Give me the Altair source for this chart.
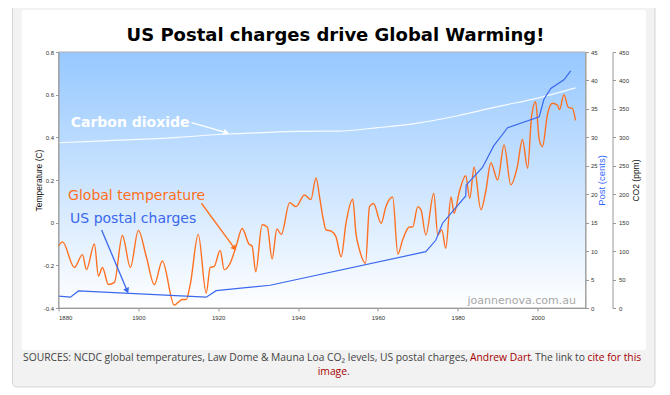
import math
import altair as alt
import pandas as pd

W, H = 527, 256
X0, X1 = 1880, 2012

# ---------------- data ----------------
temp_years = [1880, 1881, 1884, 1886, 1887, 1889, 1890, 1891, 1892.5, 1894, 1896, 1898,
              1900, 1902, 1904, 1906, 1909, 1911, 1912, 1913, 1915, 1917, 1918, 1919,
              1920.5, 1921.5, 1923, 1924.5, 1926, 1927.7, 1928.5, 1929.4, 1931, 1932.3,
              1933.5, 1934.7, 1935.8, 1937.9, 1939.5, 1941.6, 1943.2, 1944.5, 1945.4,
              1946.2, 1947, 1948.3, 1949.5, 1950.8, 1952, 1953.7, 1954.5, 1955.4, 1956.9,
              1957.9, 1958.9, 1960.8, 1962, 1963.7, 1965, 1966.2, 1967.9, 1968.7, 1970,
              1970.8, 1972, 1974, 1975, 1976, 1977, 1978.3, 1979.1, 1980.4, 1982, 1983,
              1984.1, 1985.8, 1987, 1988.3, 1990, 1991.6, 1993.3, 1994.9, 1996.2, 1997.5,
              1998.5, 1999.5, 2000.4, 2001.2, 2002.5, 2003.7, 2005, 2005.5, 2006.6,
              2007.7, 2008.7, 2009.5]
temp_vals = [-0.11, -0.09, -0.21, -0.15, -0.22, -0.10, -0.25, -0.21, -0.29, -0.28, -0.06, -0.21,
             -0.036, -0.16, -0.29, -0.18, -0.386, -0.36, -0.36, -0.29, -0.055, -0.33, -0.21, -0.205,
             -0.13, -0.22, -0.19, -0.11, -0.027, -0.10, -0.11, -0.23, -0.01, -0.02,
             -0.17, -0.03, -0.055, 0.094, 0.075, 0.13, 0.108, 0.21, 0.12,
             0.028, -0.034, -0.04, -0.066, -0.16, -0.003, 0.11, -0.05, -0.128, -0.19,
             0.075, 0.09, -0.003, 0.075, 0.12, -0.147, -0.08, -0.02, -0.02, 0.075,
             0.06, -0.058, 0.137, -0.058, -0.034, -0.12, 0.12, 0.044, 0.145, 0.22, 0.114,
             0.26, 0.06, 0.145, 0.28, 0.20, 0.364, 0.177, 0.26, 0.39, 0.255,
             0.50, 0.567, 0.39, 0.356, 0.51, 0.56, 0.55, 0.53, 0.60,
             0.54, 0.536, 0.48]

co2_years = [1880, 1890, 1900, 1910, 1920, 1930, 1940, 1950, 1960, 1970, 1980, 1990, 2000, 2009.5]
co2_vals = [290.5, 293.5, 296.4, 300, 305, 308, 310.5, 311, 317, 325, 338, 354, 369, 387]

post_years = [1880, 1883, 1885, 1917, 1919.5, 1933, 1972, 1974.5, 1976.2, 1982, 1982.1,
              1986.2, 1989, 1992.5, 2000.4, 2001.6, 2003.3, 2006.6, 2008.3]
post_vals = [2.1, 1.9, 3.0, 1.9, 3.05, 4.0, 9.9, 11.9, 14.9, 19.7, 21.6,
             24.7, 28.5, 31.7, 33.6, 36.7, 38.6, 40.1, 41.7]

x_ticks = [1880, 1900, 1920, 1940, 1960, 1980, 2000]
temp_ticks = [-0.4, -0.2, 0, 0.2, 0.4, 0.6, 0.8]
post_ticks = [0, 5, 10, 15, 20, 25, 30, 35, 40, 45]
co2_ticks = [0, 50, 100, 150, 200, 250, 300, 350, 400, 450]

# annotations (data coordinates: year / temperature)
arrow_x1 = [1913.3, 1915.8, 1890.8]
arrow_y1 = [0.469, 0.091, -0.034]
arrow_x2 = [1922.05, 1924.1, 1897.2]
arrow_y2 = [0.422, -0.12, -0.319]
arrow_colors = ["#ffffff", "#ff7020", "#3a68ee"]

label_texts = ["Global temperature", "US postal charges"]
label_x = [1882.4, 1882.9]
label_y = [0.106, -0.003]
label_colors = ["#ff7020", "#3a68ee"]

co2_label = "Carbon dioxide"
co2_label_x, co2_label_y = 1883.05, 0.449
watermark = "joannenova.com.au"
watermark_x, watermark_y = 2009.6, -0.382

title_text = "US Postal charges drive Global Warming!"
# (text, anchor x, line y, colour, alignment at the anchor)
caption_segments = [
    ("SOURCES: NCDC global temperatures, Law Dome & Mauna Loa CO\u2082 levels, US postal charges,", 409.5, 306, "#444444", "right"),
    ("Andrew Dart", 411.5, 306, "#a50000", "left"),
    (". The link to", 526.5, 306, "#444444", "right"),
    ("cite for this", 529.0, 306, "#a50000", "left"),
    ("image", 288.5, 320, "#a50000", "right"),
    (".", 288.5, 320, "#444444", "left"),
]

# ---------------- frames ----------------
temp_df = pd.DataFrame({"year": temp_years, "temp": temp_vals})
co2_df = pd.DataFrame({"year": co2_years, "co2": co2_vals})
post_df = pd.DataFrame({"year": post_years, "post": post_vals})

sx = W / (X1 - X0)
sy = H / 1.2
angles = []
for a, b, c, d in zip(arrow_x1, arrow_y1, arrow_x2, arrow_y2):
    dx = (c - a) * sx
    dy = -(d - b) * sy
    angles.append(math.degrees(math.atan2(dx, -dy)) % 360)

arrow_df = pd.DataFrame({"year": arrow_x1, "temp": arrow_y1, "year2": arrow_x2,
                         "temp2": arrow_y2, "color": arrow_colors})
head_df = pd.DataFrame({"year": arrow_x2, "temp": arrow_y2, "color": arrow_colors, "ang": angles})
label_df = pd.DataFrame({"year": label_x, "temp": label_y, "text": label_texts, "color": label_colors})
co2lab_df = pd.DataFrame({"year": [co2_label_x], "temp": [co2_label_y], "text": [co2_label]})
wm_df = pd.DataFrame({"year": [watermark_x], "temp": [watermark_y], "text": [watermark]})

# ---------------- axes / encodings ----------------
common = dict(labelFont="Liberation Sans", labelFontSize=6, labelColor="#333333",
              tickColor="#999999", domainColor="#999999", tickSize=3, grid=False,
              zindex=1, titleFont="Liberation Sans", titleFontWeight="normal")

x_axis = alt.Axis(values=x_ticks, format="d", title=None, labelPadding=3, **common)
temp_axis = alt.Axis(orient="left", values=temp_ticks, title="Temperature (C)",
                     labelExpr="datum.value == 0 ? '0' : toString(round(datum.value * 10) / 10)",
                     titleFontSize=8.5, titleColor="#111111", titleX=-20, titleY=H / 2,
                     titleBaseline="middle", titleAngle=270, labelPadding=2, **common)
post_axis = alt.Axis(orient="right", values=post_ticks, title="Post (cents)",
                     titleFontSize=9.5, titleColor="#3366ff", titleX=16, titleY=H / 2,
                     titleBaseline="middle", titleAngle=270, labelPadding=2, **common)
co2_axis = alt.Axis(orient="right", values=co2_ticks, title="CO2 (ppm)", offset=27,
                    titleFontSize=8.5, titleColor="#111111", titleX=23, titleY=H / 2,
                    titleBaseline="middle", titleAngle=270, labelPadding=3, **common)

x_enc = alt.X("year:Q", scale=alt.Scale(domain=[X0, X1], nice=False, zero=False), axis=x_axis)
y_temp = alt.Y("temp:Q", scale=alt.Scale(domain=[-0.4, 0.8], nice=False, zero=False), axis=temp_axis)
y_post = alt.Y("post:Q", scale=alt.Scale(domain=[0, 45], nice=False, zero=False), axis=post_axis)
y_co2 = alt.Y("co2:Q", scale=alt.Scale(domain=[0, 450], nice=False, zero=False), axis=co2_axis)

one = alt.Data(values=[{}])


def px_rect(x, x2, y, y2, **kw):
    return alt.Chart(one).mark_rect(**kw).encode(
        x=alt.value(x), x2=alt.value(x2), y=alt.value(y), y2=alt.value(y2))


def px_text(t, x, y, **kw):
    return alt.Chart(one).mark_text(text=t, **kw).encode(x=alt.value(x), y=alt.value(y))


card = px_rect(-46, 596.5, -47, 335, fill="#f2f2f2", stroke="#d6d6d6", strokeWidth=1, cornerRadius=4)
panel = px_rect(-36.8, 587.5, -42, 298, fill="#ffffff", cornerRadius=2)
title = px_text(title_text, 277, -11, font="DejaVu Sans", fontSize=18, fontWeight="bold",
                color="#000000", align="center", baseline="alphabetic")
captions = [px_text(t, x, y, font="Open Sans", fontSize=10.3, color=c, align=al, baseline="middle")
            for t, x, y, c, al in caption_segments]

grad = px_rect(0, W, 0, H, fill=alt.Gradient(
    gradient="linear", x1=0, y1=0, x2=0, y2=1,
    stops=[alt.GradientStop(color="#96c8ff", offset=0),
           alt.GradientStop(color="#ffffff", offset=1)]))
frame = px_rect(0, W, 0, H, fill="transparent", stroke="#b0b0b0", strokeWidth=1)

co2_line = alt.Chart(co2_df).mark_line(color="#ffffff", strokeWidth=1.2, interpolate="monotone",
                                       opacity=0.9).encode(x=x_enc, y=y_co2)
co2_group = alt.layer(co2_line)

temp_line = alt.Chart(temp_df).mark_line(color="#ff7020", strokeWidth=1.4,
                                         interpolate="monotone").encode(x=x_enc, y=y_temp)
arrows = alt.Chart(arrow_df).mark_rule(strokeWidth=1.3).encode(
    x=x_enc, y=y_temp, x2="year2:Q", y2="temp2:Q", color=alt.Color("color:N", scale=None))
heads = alt.Chart(head_df).mark_point(shape="triangle-up", filled=True, size=40, opacity=1,
                                      strokeWidth=0).encode(
    x=x_enc, y=y_temp, color=alt.Color("color:N", scale=None), angle=alt.Angle("ang:Q", scale=None))
labels = alt.Chart(label_df).mark_text(font="DejaVu Sans", fontSize=14, align="left",
                                       baseline="alphabetic").encode(
    x=x_enc, y=y_temp, text="text:N", color=alt.Color("color:N", scale=None))
co2lab = alt.Chart(co2lab_df).mark_text(font="DejaVu Sans", fontSize=14, fontWeight="bold",
                                        color="#ffffff", align="left", baseline="alphabetic").encode(
    x=x_enc, y=y_temp, text="text:N")
wm = alt.Chart(wm_df).mark_text(font="DejaVu Sans", fontSize=11, color="#a8a8a8", align="right",
                                baseline="alphabetic").encode(x=x_enc, y=y_temp, text="text:N")
temp_group = alt.layer(temp_line, arrows, heads, labels, co2lab, wm)

post_line = alt.Chart(post_df).mark_line(color="#3a68ee", strokeWidth=1.2).encode(x=x_enc, y=y_post)
post_group = alt.layer(post_line)

chart = alt.layer(
    card, panel, title, *captions, grad, frame, co2_group, temp_group, post_group
).resolve_scale(y="independent").properties(
    width=W, height=H,
    autosize=alt.AutoSizeParams(type="none"),
    padding={"left": 50.5, "top": 44, "right": 72.5, "bottom": 82},
    background="#ffffff",
).configure_view(stroke=None)

chart.save("out.html", embed_options={"renderer": "svg", "actions": False})
